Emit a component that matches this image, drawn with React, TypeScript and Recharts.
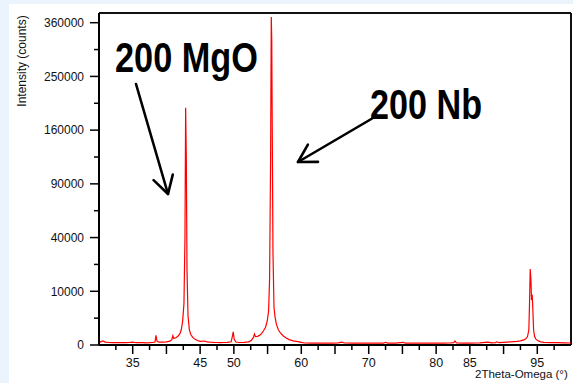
import React from 'react';
import { LineChart, Line, XAxis, YAxis, ReferenceLine } from 'recharts';

// 2theta positions (deg) and intensities (counts)
const twoTheta = [
  30.0, 30.3, 30.6, 30.9, 31.5, 32.0, 32.5, 33.0, 33.5, 34.0, 34.5, 35.0, 35.5, 36.0, 36.5, 37.0, 37.5,
  38.0, 38.3, 38.45, 38.6, 38.9, 39.5, 40.0, 40.5, 40.8, 40.95, 41.1, 41.4, 41.7, 42.0, 42.2, 42.4,
  42.6, 42.75, 42.85, 42.95, 43.05, 43.2, 43.4, 43.6, 43.9, 44.2, 44.6, 45.0, 45.7, 46.0, 46.5, 47.0,
  47.5, 48.0, 48.5, 49.0, 49.6, 49.8, 49.9, 50.05, 50.3, 50.8, 51.5, 52.2, 52.6, 52.9, 53.05, 53.2,
  53.5, 53.8, 54.1, 54.4, 54.7, 54.95, 55.15, 55.3, 55.45, 55.55, 55.62, 55.7, 55.8, 55.95, 56.1,
  56.3, 56.6, 56.9, 57.3, 57.7, 58.2, 58.8, 59.5, 60.0, 60.5, 61.5, 62.5, 63.5, 64.5, 65.5, 66.0,
  66.4, 67.5, 68.5, 69.5, 70.5, 71.5, 72.2, 72.5, 72.8, 74.0, 75.1, 75.4, 76.0, 77.0, 78.0, 79.0,
  80.0, 81.0, 82.0, 82.6, 82.8, 83.0, 84.0, 85.0, 86.0, 86.5, 87.2, 87.7, 88.2, 88.8, 89.0, 89.3,
  90.0, 90.5, 91.0, 91.5, 92.0, 92.5, 93.0, 93.3, 93.55, 93.75, 93.85, 93.95, 94.05, 94.15, 94.25,
  94.35, 94.45, 94.6, 94.8, 95.1, 95.5, 96.0, 97.0, 98.0, 99.0, 100.0,
];
const intensity = [
  18, 40, 55, 30, 22, 20, 18, 22, 20, 18, 22, 30, 18, 20, 18, 17, 18,
  22, 30, 330, 55, 28, 30, 35, 50, 100, 300, 150, 180, 260, 450, 800, 1900,
  6000, 40000, 195000, 120000, 20000, 3000, 800, 400, 200, 120, 70, 45, 55, 35, 28, 24,
  22, 20, 22, 24, 35, 300, 600, 120, 30, 22, 24, 35, 80, 200, 420, 250,
  260, 320, 450, 700, 1100, 2000, 4000, 15000, 120000, 373000, 322000, 150000, 30000, 5000, 2800,
  1500, 800, 500, 300, 180, 100, 60, 38, 25, 14, 12, 14, 12, 13, 15, 30,
  14, 13, 12, 14, 12, 13, 12, 25, 12, 13, 25, 12, 12, 13, 12, 14,
  12, 13, 14, 20, 55, 16, 13, 12, 14, 15, 25, 30, 16, 20, 35, 18,
  25, 30, 35, 40, 45, 60, 90, 130, 250, 800, 6000, 20000, 15000, 7000, 8700,
  4000, 800, 250, 120, 60, 35, 25, 20, 18, 15, 14,
];

const xTicks = [
  32.5, 35, 37.5, 40, 42.5, 45, 47.5, 50, 52.5, 55, 57.5, 60, 62.5, 65, 67.5, 70, 72.5, 75, 77.5,
  80, 82.5, 85, 87.5, 90, 92.5, 95, 97.5,
];
const xLabels = [35, 45, 50, 60, 70, 80, 85, 95];
const yTicks = [
  0, 2500, 10000, 22500, 40000, 62500, 90000, 122500, 160000, 202500, 250000, 302500, 360000,
];
const yLabels = [0, 10000, 40000, 90000, 160000, 250000, 360000];
const yMax = 382000;
const xMin = 30;
const xMax = 100;

const data = twoTheta.map((t, i) => ({ t, counts: intensity[i] }));

const font = '"Liberation Sans", Arial, sans-serif';

const XTick = (props: any) => {
  const { x, y, payload } = props;
  const v = payload.value;
  const major = Math.abs(v % 5) < 1e-6;
  return (
    <g>
      <line x1={x} x2={x} y1={y} y2={y + (major ? 9 : 5)} stroke="#000" strokeWidth={1.5} />
      {xLabels.includes(v) && (
        <text x={x} y={y + 21.5} textAnchor="middle" fontSize={12.5} fontFamily={font} fill="#111">
          {v}
        </text>
      )}
    </g>
  );
};

const YTick = (props: any) => {
  const { x, y, payload } = props;
  const v = payload.value;
  const major = yLabels.includes(v);
  return (
    <g>
      <line x1={x - (major ? 9 : 5)} x2={x} y1={y} y2={y} stroke="#000" strokeWidth={1.5} />
      {major && (
        <text x={x - 15} y={y} dy="0.36em" textAnchor="end" fontSize={12} fontFamily={font} fill="#111">
          {v}
        </text>
      )}
    </g>
  );
};

const Arrow = ({ x1, y1, x2, y2 }: { x1: number; y1: number; x2: number; y2: number }) => {
  const len = Math.hypot(x2 - x1, y2 - y1);
  const ux = (x1 - x2) / len;
  const uy = (y1 - y2) / len;
  const a = Math.PI / 6;
  const h = 20;
  const p1 = [x2 + h * (ux * Math.cos(a) - uy * Math.sin(a)), y2 + h * (ux * Math.sin(a) + uy * Math.cos(a))];
  const p2 = [x2 + h * (ux * Math.cos(-a) - uy * Math.sin(-a)), y2 + h * (ux * Math.sin(-a) + uy * Math.cos(-a))];
  return (
    <g stroke="#000" strokeWidth={2.6} fill="none" strokeLinecap="round" strokeLinejoin="round">
      <line x1={x1} y1={y1} x2={x2} y2={y2} />
      <polyline points={`${p1[0]},${p1[1]} ${x2},${y2} ${p2[0]},${p2[1]}`} />
    </g>
  );
};

const App: React.FC = () => {
  return (
    <div style={{ position: 'relative', width: 573, height: 383, background: '#ebf3fd', overflow: 'hidden' }}>
      <style>{`body{margin:0}`}</style>
      <div style={{ position: 'absolute', left: 9, top: 4, right: 0, bottom: 0, background: '#fff' }} />
      <div style={{ position: 'absolute', left: 0, top: 0 }}>
        <LineChart width={573} height={383} data={data} margin={{ top: 13, right: 2, bottom: 8, left: 0 }}>
          <XAxis
            dataKey="t"
            type="number"
            domain={[xMin, xMax]}
            ticks={xTicks}
            interval={0}
            tick={<XTick />}
            tickSize={0}
            tickMargin={0}
            tickLine={false}
            axisLine={{ stroke: '#000', strokeWidth: 2 }}
            height={30}
          />
          <YAxis
            type="number"
            scale="sqrt"
            domain={[0, yMax]}
            ticks={yTicks}
            interval={0}
            tick={<YTick />}
            tickSize={0}
            tickMargin={0}
            tickLine={false}
            axisLine={{ stroke: '#000', strokeWidth: 2 }}
            width={99}
          />
          <ReferenceLine y={yMax} stroke="#111" strokeWidth={2} />
          <ReferenceLine x={xMax} stroke="#111" strokeWidth={2} />
          <Line
            type="linear"
            dataKey="counts"
            stroke="#ff0000"
            strokeWidth={1.2}
            dot={false}
            isAnimationActive={false}
          />
        </LineChart>
      </div>
      <svg width={573} height={383} style={{ position: 'absolute', left: 0, top: 0, pointerEvents: 'none' }}>
        <text
          x={22}
          y={61}
          transform="rotate(-90 22 61)"
          textAnchor="middle"
          dy="0.36em"
          fontSize={12}
          fontFamily={font}
          fill="#111"
        >
          Intensity (counts)
        </text>
        <text x={475} y={378} fontSize={11.5} fontFamily={font} fill="#111">
          2Theta-Omega (°)
        </text>
        <text
          x={115}
          y={72}
          fontSize={42}
          fontWeight="bold"
          fontFamily={font}
          textLength={143}
          lengthAdjust="spacingAndGlyphs"
          fill="#000"
        >
          200 MgO
        </text>
        <text
          x={370}
          y={119}
          fontSize={42}
          fontWeight="bold"
          fontFamily={font}
          textLength={112}
          lengthAdjust="spacingAndGlyphs"
          fill="#000"
        >
          200 Nb
        </text>
        <Arrow x1={136} y1={84} x2={168} y2={194} />
        <Arrow x1={373} y1={118} x2={298} y2={162} />
      </svg>
    </div>
  );
};

export default App;
